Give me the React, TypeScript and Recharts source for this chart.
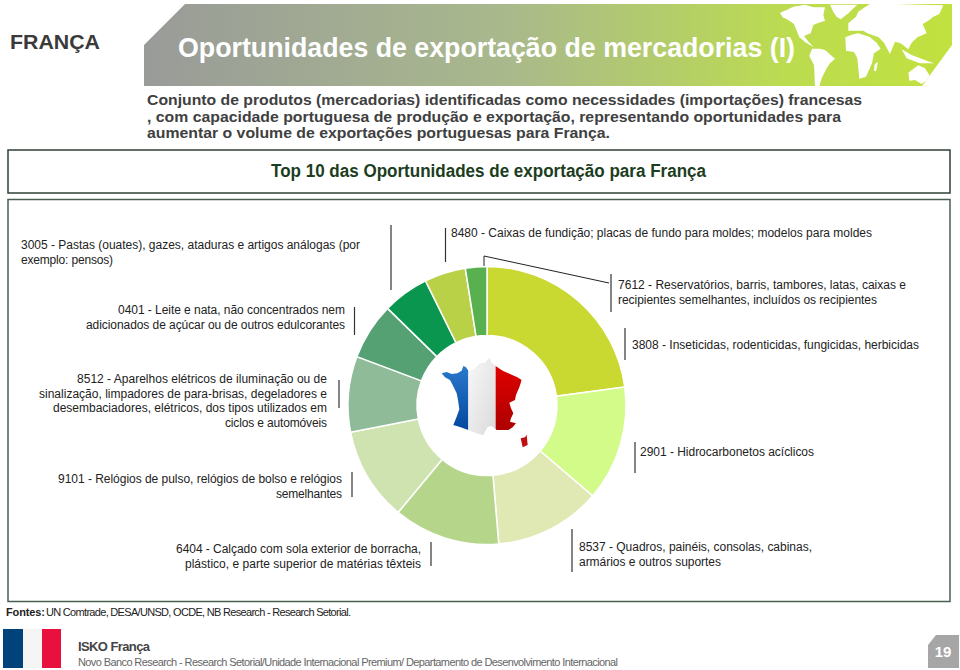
import { PieChart, Pie, Cell } from "recharts";

// clockwise from 12 o'clock, shares (%)
const CODES = ["7612", "3808", "2901", "8537", "6404", "9101", "8512", "0401", "3005", "8480"];
const SHARES = [22.9, 13.4, 12.4, 12.4, 10.9, 8.8, 6.6, 5.4, 4.8, 2.5];
const SLICE_COLORS = [
  "#c9d932",
  "#d2fb8a",
  "#e0e8b4",
  "#b5d68a",
  "#cfe3b0",
  "#8fbb98",
  "#55a173",
  "#0b9650",
  "#b9d146",
  "#58b04f",
];

const LABELS: Record<string, string[]> = {
  "7612": [
    "7612 - Reservatórios, barris, tambores, latas, caixas e",
    "recipientes semelhantes, incluídos os recipientes",
  ],
  "3808": ["3808 - Inseticidas, rodenticidas, fungicidas, herbicidas"],
  "2901": ["2901 - Hidrocarbonetos acíclicos"],
  "8537": ["8537 - Quadros, painéis, consolas, cabinas,", "armários e outros suportes"],
  "6404": [
    "6404 - Calçado com sola exterior de borracha,",
    "plástico, e parte superior de matérias têxteis",
  ],
  "9101": ["9101 - Relógios de pulso, relógios de bolso e relógios", "semelhantes"],
  "8512": [
    "8512 - Aparelhos elétricos de iluminação ou de",
    "sinalização, limpadores de para-brisas, degeladores e",
    "desembaciadores, elétricos, dos tipos utilizados em",
    "ciclos e automóveis",
  ],
  "0401": [
    "0401 - Leite e nata, não concentrados nem",
    "adicionados de açúcar ou de outros edulcorantes",
  ],
  "3005": ["3005 - Pastas (ouates), gazes, ataduras e artigos análogas (por", "exemplo: pensos)"],
  "8480": ["8480 - Caixas de fundição; placas de fundo para moldes; modelos para moldes"],
};

const TITLE = "Oportunidades de exportação de mercadorias (I)";
const INTRO = [
  "Conjunto de produtos (mercadorias) identificadas como necessidades (importações) francesas",
  ", com capacidade portuguesa de produção e exportação, representando oportunidades para",
  "aumentar o volume de exportações portuguesas para França.",
];

const pieData = CODES.map((code, i) => ({ name: code, value: SHARES[i] }));

// text layout: [left, right, baseline] per line
const TEXT_POS: Record<string, number[][]> = {
  "7612": [[618, 906, 289], [618, 877, 304]],
  "3808": [[632, 919, 349]],
  "2901": [[640, 814, 456]],
  "8537": [[579, 812, 551], [579, 721, 566]],
  "6404": [[176, 421, 553], [185, 421, 568]],
  "9101": [[58, 342, 483], [276, 342, 498]],
  "8512": [[77, 327, 383], [39, 327, 398], [53, 327, 412], [225, 327, 427]],
  "0401": [[118, 345, 314], [86, 345, 329]],
  "3005": [[21, 360, 249], [21, 113, 264]],
  "8480": [[451, 872, 237]],
};

// x, y1, y2 of the small vertical rule next to each label
const RULES = [
  [611, 274, 312],
  [625, 328, 360],
  [635, 442, 473],
  [572, 529, 572],
  [431, 542, 566],
  [352, 472, 497],
  [339, 380, 408],
  [354.5, 307, 335],
  [391, 225, 290],
  [445.5, 228, 262],
];

const SANS = "'Liberation Sans', Arial, sans-serif";

const Background = () => (
  <svg width={960} height={670} style={{ position: "absolute", left: 0, top: 0 }}>
    <defs>
      <linearGradient id="banner" x1="0" x2="1" y1="0" y2="0">
        <stop offset="0" stopColor="#999b99" />
        <stop offset="0.45" stopColor="#a9b98c" />
        <stop offset="0.8" stopColor="#bcdc50" />
        <stop offset="1" stopColor="#c1e13f" />
      </linearGradient>
      <clipPath id="bannerClip">
        <polygon points="144,86 144,45 185,4 952,4 952,45 922,86" />
      </clipPath>
    </defs>
    <polygon points="144,86 144,45 185,4 952,4 952,45 922,86" fill="url(#banner)" />
    {/* world map, very rough */}
    <g clipPath="url(#bannerClip)">
      <g transform="translate(780,0) scale(0.3333)" fill="#ffffff">
        <polygon points="0,38 20,30 40,20 75,14 100,22 135,22 130,45 135,62 112,70 100,75 92,100 72,108 88,128 102,142 78,128 58,112 42,72 25,60 8,52" />
        <polygon points="150,14 232,14 215,30 205,40 182,58 170,50 160,36" />
        <polygon points="96,146 120,146 135,150 165,176 150,190 140,205 125,235 118,258 105,258 102,195 88,168" />
        <polygon points="235,35 250,25 270,12 350,12 420,14 490,16 478,42 460,50 445,62 428,72 440,100 412,112 395,128 385,148 362,130 345,125 330,162 312,128 296,112 262,100 250,92 205,92 205,70 228,50" />
        <polygon points="196,112 215,104 235,100 268,110 290,128 302,146 282,160 276,190 258,230 238,236 232,175 222,156 198,152" />
        <polygon points="385,218 415,196 435,205 452,232 425,252 405,240 388,242" />
        <polygon points="284,192 294,186 288,214 282,212" />
        <polygon points="365,148 395,165 440,182 462,190 420,190 380,175" />
      </g>
    </g>
    <rect x={8} y={150} width={942} height={43} fill="#fff" stroke="#2f3f35" strokeWidth={1.5} />
    <rect x={8} y={199.5} width={942} height={402} fill="#fff" stroke="#4a5f52" strokeWidth={1.5} />
    {/* flag + page tab */}
    <rect x={3} y={629} width={20} height={39} fill="#00427a" />
    <rect x={23} y={629} width={19} height={39} fill="#f5f5f5" />
    <rect x={42} y={629} width={19} height={39} fill="#e8103f" />
    <polygon points="928,668 928,645 936,635 959,635 959,668" fill="#a6a6a6" />
  </svg>
);

const CenterMap = () => (
  <svg width={960} height={670} style={{ position: "absolute", left: 0, top: 0 }}>
    <defs>
      <linearGradient id="frBlue" x1="0" x2="0" y1="0" y2="1">
        <stop offset="0" stopColor="#2f80d2" />
        <stop offset="1" stopColor="#00439a" />
      </linearGradient>
      <linearGradient id="frWhite" x1="0" x2="1" y1="0" y2="1">
        <stop offset="0" stopColor="#f8f8f8" />
        <stop offset="1" stopColor="#dadada" />
      </linearGradient>
      <linearGradient id="frRed" x1="0" x2="0" y1="0" y2="1">
        <stop offset="0" stopColor="#e60000" />
        <stop offset="1" stopColor="#a80000" />
      </linearGradient>
      <clipPath id="frClip">
        <polygon points="35,70 50,66 65,72 82,70 95,62 100,48 108,52 115,62 132,58 150,40 165,38 178,22 186,40 200,50 218,62 240,72 262,82 275,90 268,112 258,135 255,150 238,158 243,175 250,190 243,205 240,215 258,220 248,232 235,240 200,240 185,228 172,232 160,256 140,250 115,240 92,232 70,225 80,200 88,178 84,150 80,130 68,105 60,90 45,82" />
      </clipPath>
    </defs>
    <g transform="translate(430,350) scale(0.3333)">
      <g clipPath="url(#frClip)">
        <rect x={30} y={20} width={85} height={240} fill="url(#frBlue)" />
        <rect x={115} y={20} width={82} height={240} fill="url(#frWhite)" />
        <rect x={197} y={20} width={85} height={240} fill="url(#frRed)" />
      </g>
      <polygon points="272,265 285,262 290,254 293,285 278,292" fill="#c01010" />
    </g>
  </svg>
);

const Overlay = () => (
  <svg
    width={960}
    height={670}
    style={{ position: "absolute", left: 0, top: 0, fontFamily: SANS }}
  >
    <text x={10} y={49} fontSize={21} fontWeight={700} fill="#3a3a3a" textLength={90} lengthAdjust="spacingAndGlyphs">
      FRANÇA
    </text>
    <text x={178} y={57} fontSize={27} fontWeight={700} fill="#ffffff" textLength={617} lengthAdjust="spacingAndGlyphs">
      {TITLE}
    </text>
    {INTRO.map((line, i) => (
      <text
        key={i}
        x={147}
        y={105 + i * 16.5}
        fontSize={15}
        fontWeight={700}
        fill="#404040"
        textLength={[715, 694, 463][i]}
        lengthAdjust="spacingAndGlyphs"
      >
        {line}
      </text>
    ))}
    <text x={271} y={177} fontSize={18} fontWeight={700} fill="#1c3d1e" textLength={435} lengthAdjust="spacingAndGlyphs">
      Top 10 das Oportunidades de exportação para França
    </text>

    {CODES.flatMap((code) =>
      LABELS[code].map((line, i) => {
        const [left, right, y] = TEXT_POS[code][i];
        return (
          <text key={code + i} x={left} y={y} fontSize={12} fill="#222" textLength={right - left}>
            {line}
          </text>
        );
      })
    )}
    {RULES.map(([x, y1, y2], i) => (
      <line key={i} x1={x} x2={x} y1={y1} y2={y2} stroke="#333" strokeWidth={1.2} />
    ))}
    <polyline points="484,266 484,256 609,283" fill="none" stroke="#222" strokeWidth={1} />

    <text x={6} y={616} fontSize={11} fontWeight={700} fill="#222" textLength={39}>
      Fontes:
    </text>
    <text x={46} y={616} fontSize={11} fill="#222" textLength={305}>
      UN Comtrade, DESA/UNSD, OCDE, NB Research - Research Setorial.
    </text>
    <text x={78} y={651} fontSize={13} fontWeight={700} fill="#444" textLength={72}>
      ISKO França
    </text>
    <text x={78} y={666} fontSize={11} fill="#666" textLength={540}>
      Novo Banco Research - Research Setorial/Unidade Internacional Premium/ Departamento de Desenvolvimento Internacional
    </text>
    <text x={943} y={657} fontSize={15} fontWeight={700} fill="#fff" textAnchor="middle">
      19
    </text>
  </svg>
);

export default function App() {
  return (
    <div style={{ position: "absolute", left: 0, top: 0, width: 960, height: 670, background: "#fff" }}>
      <Background />
      <div style={{ position: "absolute", left: 0, top: 0 }}>
        <PieChart width={960} height={670} margin={{ top: 0, right: 0, bottom: 0, left: 0 }}>
          <Pie
            data={pieData}
            dataKey="value"
            nameKey="name"
            cx={487}
            cy={405.5}
            innerRadius={70}
            outerRadius={139}
            startAngle={90}
            endAngle={-270}
            stroke="#ffffff"
            strokeWidth={1.5}
            isAnimationActive={false}
          >
            {pieData.map((d, i) => (
              <Cell key={d.name} fill={SLICE_COLORS[i]} />
            ))}
          </Pie>
        </PieChart>
      </div>
      <CenterMap />
      <Overlay />
    </div>
  );
}
